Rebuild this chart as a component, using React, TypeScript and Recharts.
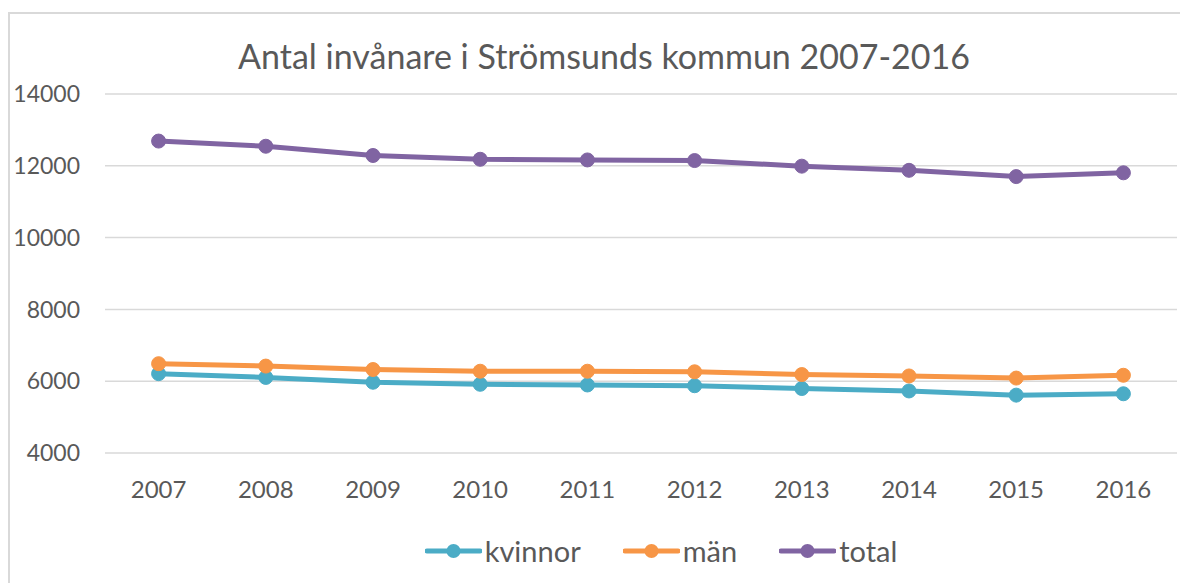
import { LineChart, Line, XAxis, YAxis, CartesianGrid } from "recharts";

const years = ["2007", "2008", "2009", "2010", "2011", "2012", "2013", "2014", "2015", "2016"];
const kvinnor = [6210, 6105, 5971, 5914, 5895, 5874, 5796, 5728, 5612, 5650];
const man = [6488, 6421, 6325, 6278, 6278, 6262, 6185, 6146, 6087, 6165];
const total = [12689, 12545, 12287, 12182, 12163, 12146, 11990, 11874, 11699, 11805];
const yTicks = [4000, 6000, 8000, 10000, 12000, 14000];

const series = [
  { key: "kvinnor", name: "kvinnor", color: "#4BACC6" },
  { key: "man", name: "män", color: "#F79646" },
  { key: "total", name: "total", color: "#8064A2" },
];

const data = years.map((year, i) => ({
  year,
  kvinnor: kvinnor[i],
  man: man[i],
  total: total[i],
}));

const font = "Lato, 'Open Sans', sans-serif";
const textColor = "#595959";

function LegendRow() {
  return (
    <div
      style={{
        position: "absolute",
        left: 63,
        top: 525,
        width: 1180,
        display: "flex",
        justifyContent: "center",
        alignItems: "center",
        fontFamily: font,
        fontSize: 29,
        color: textColor,
        gap: 42,
      }}
    >
      {series.map((s) => (
        <div key={s.key} style={{ display: "flex", alignItems: "center" }}>
          <svg width={57} height={20} style={{ marginRight: 3 }}>
            <line x1={2} y1={10} x2={55} y2={10} stroke={s.color} strokeWidth={5} strokeLinecap="round" />
            <circle cx={28.5} cy={10} r={7} fill={s.color} />
          </svg>
          <span>{s.name}</span>
        </div>
      ))}
    </div>
  );
}

export default function App() {
  return (
    <div style={{ position: "relative", width: 1180, height: 575, overflow: "hidden", background: "#fff" }}>
      <div
        style={{
          position: "absolute",
          left: 0,
          top: 4,
          width: 1400,
          height: 800,
          borderLeft: "2px solid #D9D9D9",
          borderTop: "2px solid #D9D9D9",
        }}
      />
      <div
        style={{
          position: "absolute",
          left: 0,
          top: 27,
          width: 1192,
          textAlign: "center",
          fontFamily: font,
          fontSize: 34,
          color: textColor,
          whiteSpace: "nowrap",
        }}
      >
        Antal invånare i Strömsunds kommun 2007-2016
      </div>
      <div style={{ position: "absolute", left: 0, top: 0 }}>
        <LineChart
          width={1180}
          height={575}
          data={data}
          margin={{ top: 86, right: 11, bottom: 100, left: 0 }}
        >
          <CartesianGrid horizontal vertical={false} stroke="#D9D9D9" strokeWidth={1.5} />
          <XAxis
            dataKey="year"
            axisLine={false}
            tickLine={false}
            height={30}
            tickMargin={22}
            padding={{ left: 53.6, right: 53.6 }}
            tick={{ fontFamily: font, fontSize: 24, fill: textColor }}
            interval={0}
          />
          <YAxis
            domain={[4000, 14000]}
            ticks={yTicks}
            width={97}
            axisLine={false}
            tickLine={false}
            tickMargin={19}
            tick={{ fontFamily: font, fontSize: 23, fill: textColor }}
            allowDataOverflow
          />
          {series.map((s) => (
            <Line
              key={s.key}
              dataKey={s.key}
              name={s.name}
              stroke={s.color}
              strokeWidth={5}
              dot={{ r: 7, fill: s.color, stroke: s.color, strokeWidth: 1 }}
              activeDot={false}
              isAnimationActive={false}
            />
          ))}
        </LineChart>
      </div>
      <LegendRow />
    </div>
  );
}
